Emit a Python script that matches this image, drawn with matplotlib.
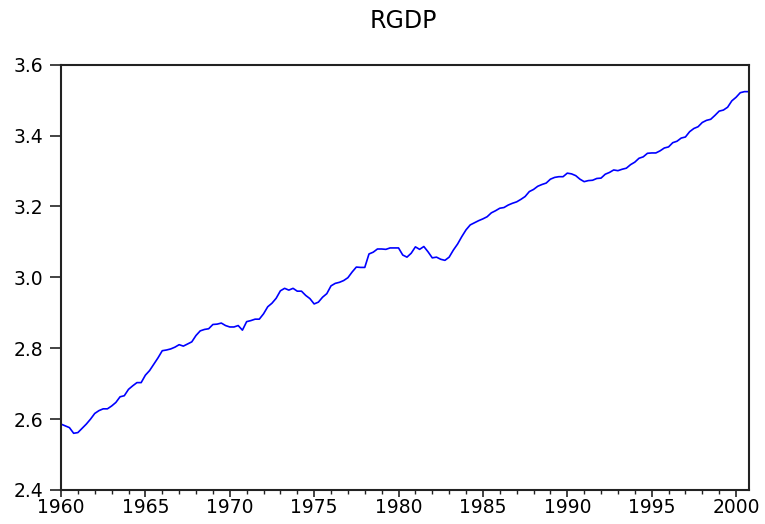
import numpy as np
import matplotlib
matplotlib.use("Agg")
import matplotlib.pyplot as plt
from matplotlib.ticker import MultipleLocator, FormatStrFormatter

start_year = 1960
rgdp = [
    2.586, 2.581, 2.576, 2.560,
    2.562, 2.574, 2.586, 2.600,
    2.616, 2.624, 2.629, 2.629,
    2.637, 2.647, 2.663, 2.666,
    2.684, 2.694, 2.703, 2.703,
    2.724, 2.737, 2.755, 2.773,
    2.793, 2.795, 2.798, 2.803,
    2.810, 2.806, 2.812, 2.818,
    2.836, 2.849, 2.853, 2.855,
    2.867, 2.868, 2.871, 2.864,
    2.860, 2.860, 2.864, 2.851,
    2.875, 2.878, 2.882, 2.882,
    2.897, 2.917, 2.927, 2.941,
    2.962, 2.969, 2.964, 2.969,
    2.961, 2.961, 2.949, 2.940,
    2.925, 2.930, 2.944, 2.954,
    2.976, 2.983, 2.986, 2.991,
    2.999, 3.015, 3.029, 3.028,
    3.028, 3.066, 3.071, 3.080,
    3.080, 3.079, 3.083, 3.083,
    3.083, 3.063, 3.057, 3.068,
    3.086, 3.079, 3.087, 3.072,
    3.055, 3.057, 3.051, 3.048,
    3.057, 3.077, 3.094, 3.115,
    3.134, 3.148, 3.154, 3.160,
    3.165, 3.171, 3.182, 3.188,
    3.195, 3.197, 3.204, 3.209,
    3.213, 3.220, 3.228, 3.242,
    3.248, 3.257, 3.262, 3.266,
    3.277, 3.282, 3.284, 3.284,
    3.294, 3.292, 3.287, 3.277,
    3.270, 3.273, 3.274, 3.279,
    3.280, 3.291, 3.296, 3.303,
    3.301, 3.305, 3.308, 3.318,
    3.325, 3.336, 3.340, 3.350,
    3.351, 3.351, 3.357, 3.365,
    3.368, 3.380, 3.384, 3.393,
    3.396, 3.411, 3.420, 3.425,
    3.437, 3.443, 3.446, 3.457,
    3.469, 3.472, 3.480, 3.498,
    3.508, 3.521, 3.524, 3.524,
]
title = "RGDP"

t = start_year + np.arange(len(rgdp)) / 4.0

plt.rcParams['font.family'] = ['DejaVu Sans']

fig = plt.figure(figsize=(7.65, 5.24), dpi=100)
ax = fig.add_axes([61/765, 1 - 490/524, (748.7 - 61)/765, (490 - 64.7)/524])

ax.plot(t, rgdp, color='#0000ff', lw=1.2)

ax.set_xlim(start_year, t[-1])
ax.set_ylim(2.4, 3.6)
ax.xaxis.set_major_locator(MultipleLocator(5))
ax.xaxis.set_minor_locator(MultipleLocator(1))
ax.yaxis.set_major_locator(MultipleLocator(0.2))
ax.yaxis.set_major_formatter(FormatStrFormatter('%.1f'))

for s in ax.spines.values():
    s.set_linewidth(1.5)
    s.set_color('#222222')

ax.tick_params(axis='x', which='major', direction='out', length=5, width=1.2,
               colors='#222222', labelsize=13.5, pad=1, labelcolor='black')
ax.tick_params(axis='x', which='minor', direction='out', length=3, width=1.0,
               colors='#222222')
ax.tick_params(axis='y', which='major', direction='out', length=8, width=1.2,
               colors='#222222', labelsize=13.5, pad=5, labelcolor='black')

fig.text(403.5 / 765, 1 - 21/524, title, ha='center', va='center',
         fontsize=17, color='black')

fig.savefig('out.png', dpi=100)
